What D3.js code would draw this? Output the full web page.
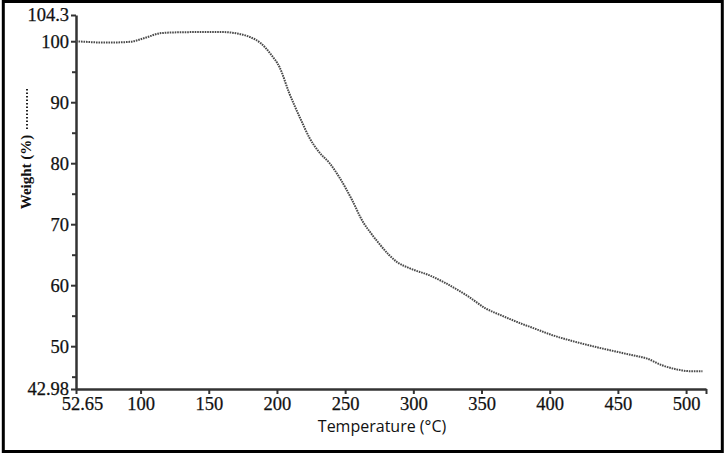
<!DOCTYPE html>
<html><head><meta charset="utf-8">
<script src="https://cdn.jsdelivr.net/npm/d3@7"></script>
<style>body{margin:0;background:#fff}svg{display:block}</style>
</head><body>
<svg id="c" width="728" height="455"></svg>
<script>
const temperature = [52.65, 60, 70, 80, 92, 104, 114, 125, 143, 160, 170, 180, 188, 195, 202, 209, 217, 224, 231, 239, 246, 255, 263, 269, 275, 282, 288, 297, 312, 324, 340, 353, 365, 378, 390, 402, 414, 426, 439, 451, 461, 471, 482, 493, 503, 512];
const weight = [100, 99.9, 99.8, 99.8, 99.9, 100.6, 101.3, 101.45, 101.5, 101.5, 101.3, 100.7, 99.7, 98.0, 95.7, 91.5, 87.4, 84.1, 81.8, 79.9, 77.6, 74.0, 70.4, 68.5, 66.8, 65.0, 63.8, 62.8, 61.6, 60.3, 58.2, 56.2, 55.0, 53.8, 52.8, 51.8, 51.0, 50.3, 49.6, 49.0, 48.5, 48.0, 46.9, 46.2, 45.9, 45.9];
const xTicks = [52.65, 100, 150, 200, 250, 300, 350, 400, 450, 500];
const xTickLabels = ["52.65", "100", "150", "200", "250", "300", "350", "400", "450", "500"];
const yTicks = [104.3, 100, 90, 80, 70, 60, 50, 42.98];
const yTickLabels = ["104.3", "100", "90", "80", "70", "60", "50", "42.98"];
const yMinorTicks = [95, 85, 75, 65, 55, 45];
const xDomain = [52.65, 514.6];
const yDomain = [42.98, 104.3];
const xTitle = "Temperature (°C)";
const yTitle = "Weight (%)";

const svg = d3.select("#c");
svg.append("rect").attr("x", 3.3).attr("y", 1.5).attr("width", 719).attr("height", 450)
  .attr("fill", "none").attr("stroke", "#000").attr("stroke-width", 3);

const x = d3.scaleLinear().domain(xDomain).range([76, 706]);
const y = d3.scaleLinear().domain(yDomain).range([389, 15]);

const serif = "'Liberation Serif', 'DejaVu Serif', serif";

// Y axis
const yAxis = d3.axisLeft(y).tickValues(yTicks).tickSize(5).tickSizeOuter(0)
  .tickFormat((d, i) => yTickLabels[i]);
const gy = svg.append("g").attr("transform", "translate(76,0)").call(yAxis);
gy.select(".domain").attr("stroke", "#333").attr("stroke-width", 2.5);
gy.selectAll(".tick line").attr("stroke", "#333").attr("stroke-width", 2);
gy.selectAll(".tick text").attr("font-family", serif).attr("font-size", 18.5).attr("fill", "#111")
  .attr("stroke", "#111").attr("stroke-width", 0.25).attr("x", -7);
const yMinor = d3.axisLeft(y).tickValues(yMinorTicks).tickSize(4).tickSizeOuter(0).tickFormat("");
const gym = svg.append("g").attr("transform", "translate(76,0)").call(yMinor);
gym.select(".domain").remove();
gym.selectAll(".tick line").attr("stroke", "#333").attr("stroke-width", 2);

// X axis
const xAxis = d3.axisBottom(x).tickValues(xTicks.concat([xDomain[1]])).tickSize(5).tickSizeOuter(0)
  .tickFormat((d, i) => i < xTickLabels.length ? xTickLabels[i] : "");
const gx = svg.append("g").attr("transform", "translate(0,389)").call(xAxis);
gx.select(".domain").attr("stroke", "#333").attr("stroke-width", 2.5);
gx.selectAll(".tick line").attr("stroke", "#333").attr("stroke-width", 2);
gx.selectAll(".tick text").attr("font-family", serif).attr("font-size", 18.5).attr("fill", "#111")
  .attr("stroke", "#111").attr("stroke-width", 0.25)
  .attr("y", 8).attr("dx", (d, i) => i === 0 ? 6 : 0);

// Titles
svg.append("text").attr("x", 382).attr("y", 432).attr("text-anchor", "middle")
  .attr("font-family", "'Open Sans', sans-serif").attr("font-size", 16).attr("fill", "#111").text(xTitle);
svg.append("text").attr("transform", "translate(31,172) rotate(-90)").attr("text-anchor", "middle")
  .attr("font-family", serif).attr("font-weight", "bold").attr("font-size", 15).attr("fill", "#111").text(yTitle);
svg.append("line").attr("x1", 27).attr("x2", 27).attr("y1", 129).attr("y2", 87)
  .attr("stroke", "#222").attr("stroke-width", 2).attr("stroke-dasharray", "1.5,2");

// Curve
const line = d3.line().x((d, i) => x(temperature[i])).y((d, i) => y(weight[i])).curve(d3.curveMonotoneX);
svg.append("path").datum(weight).attr("d", line).attr("fill", "none")
  .attr("stroke", "#4a4a4a").attr("stroke-width", 2).attr("stroke-dasharray", "1.6,0.9");
</script>
</body></html>
